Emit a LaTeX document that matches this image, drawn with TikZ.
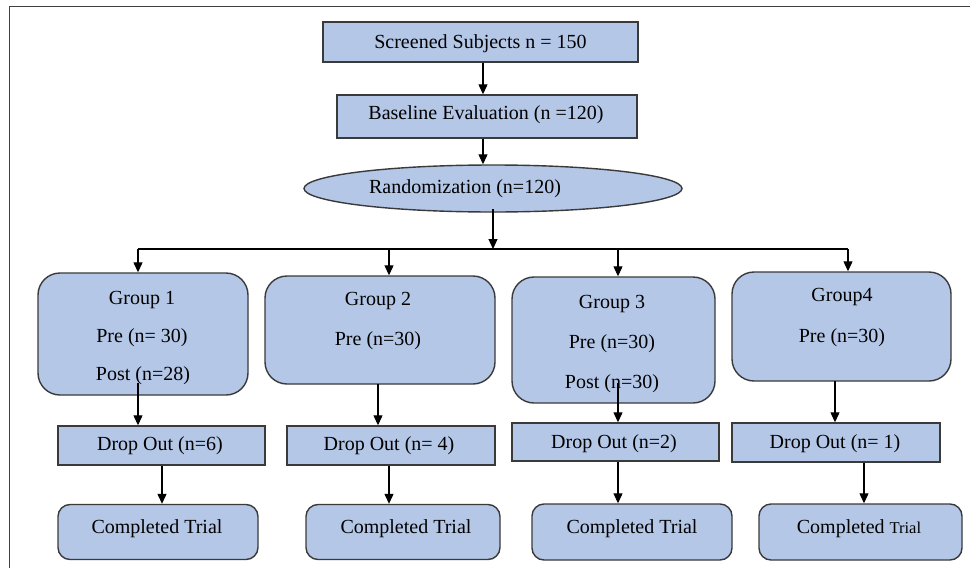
\documentclass[tikz,border=0pt]{standalone}
\usepackage{fontspec}
\setmainfont{Liberation Serif}
\usetikzlibrary{arrows.meta,shapes.geometric}
\definecolor{boxfill}{HTML}{B4C7E7}
\definecolor{boxline}{HTML}{3A3A3A}
\definecolor{frameline}{HTML}{404040}
\begin{document}
\begin{tikzpicture}[x=1pt,y=-1pt,
  base/.style={draw=boxline,line width=1.4pt,fill=boxfill,inner sep=0pt,
    font=\fontsize{20}{24}\selectfont},
  rectbox/.style={base,rectangle},
  grpbox/.style={base,rectangle,rounded corners=22pt},
  donebox/.style={base,rectangle,rounded corners=12pt},
  ovalbox/.style={base,ellipse},
  txt/.style={inner sep=0pt,font=\fontsize{20}{24}\selectfont,text height=14pt,text depth=4pt},
  arr/.style={draw=black,line width=1.2pt,-{Triangle[width=9pt,length=10pt]}},
  ln/.style={draw=black,line width=1.2pt}]
\useasboundingbox (0,0) rectangle (970,568);
% frame
\draw[frameline,line width=1.6pt] (9.5,570) -- (9.5,6.5) -- (971,6.5);

% top chain
\node[rectbox,minimum width=315pt,minimum height=40pt] (s) at (480.5,42) {};
\node[txt] (st) at (480.5,43) {Screened Subjects n = 150};
\node[rectbox,minimum width=300pt,minimum height=43pt] (b) at (487,116.5) {};
\node[txt] (bt) at (486,114) {Baseline Evaluation (n =120)};
\node[ovalbox,minimum width=378pt,minimum height=47pt] (e) at (493,188.5) {};
\node[txt] (et) at (465,188) {Randomization (n=120)};

% groups
\node[grpbox,minimum width=210pt,minimum height=122pt] (g1) at (143,334) {};
\node[grpbox,minimum width=230pt,minimum height=108pt] (g2) at (380,330) {};
\node[grpbox,minimum width=203pt,minimum height=126pt] (g3) at (613.5,340) {};
\node[grpbox,minimum width=219pt,minimum height=109pt] (g4) at (841.5,326.5) {};

\node[txt] (g1a) at (142,299) {Group 1};
\node[txt] (g1b) at (142,337) {Pre (n= 30)};
\node[txt] (g1c) at (143,375) {Post (n=28)};
\node[txt] (g2a) at (378,300) {Group 2};
\node[txt] (g2b) at (378,340) {Pre (n=30)};
\node[txt] (g3a) at (612,303) {Group 3};
\node[txt] (g3b) at (612,343) {Pre (n=30)};
\node[txt] (g3c) at (612,383) {Post (n=30)};
\node[txt] (g4a) at (842,296) {Group4};
\node[txt] (g4b) at (842,337) {Pre (n=30)};

% drop outs
\node[rectbox,minimum width=207pt,minimum height=39pt] (d1) at (161.5,445.5) {};
\node[rectbox,minimum width=208pt,minimum height=39pt] (d2) at (391,445.5) {};
\node[rectbox,minimum width=207pt,minimum height=38pt] (d3) at (615.5,442) {};
\node[rectbox,minimum width=208pt,minimum height=39pt] (d4) at (836,442.5) {};
\node[txt] (d1t) at (160,445) {Drop Out (n=6)};
\node[txt] (d2t) at (389,445) {Drop Out (n= 4)};
\node[txt] (d3t) at (614,443) {Drop Out (n=2)};
\node[txt] (d4t) at (835,443) {Drop Out (n= 1)};

% completed
\node[donebox,minimum width=200pt,minimum height=55pt] (c1) at (158,532) {};
\node[donebox,minimum width=194pt,minimum height=55pt] (c2) at (403,532) {};
\node[donebox,minimum width=200pt,minimum height=56pt] (c3) at (632,532) {};
\node[donebox,minimum width=203pt,minimum height=56pt] (c4) at (860.5,532) {};
\node[txt] (c1t) at (157,528) {Completed Trial};
\node[txt] (c2t) at (406,528) {Completed Trial};
\node[txt] (c3t) at (632,528) {Completed Trial};
\node[txt] (c4t) at (859,528) {Completed {\fontsize{16.5}{20}\selectfont Trial}};

% connectors
\coordinate (cx) at (483,0);
\draw[arr] (s.south -| cx) -- (b.north -| cx);
\draw[arr] (b.south -| cx) -- (e.north -| cx);
\coordinate (eo) at (493,209);
\coordinate (bus) at (493,249);
\draw[arr] (eo) -- (bus);
\coordinate (bl) at (138,249);
\coordinate (b2) at (389,249);
\coordinate (b3) at (618,249);
\coordinate (br) at (848,249);
\draw[ln] (bl) -- (br);
\draw[arr] (bl) -- (g1.north -| bl);
\draw[arr] (b2) -- (g2.north -| b2);
\draw[arr] (b3) -- (g3.north -| b3);
\draw[arr] (br) -- (g4.north -| br);

\coordinate (o1) at (138,383);
\coordinate (o2) at (378,384);
\coordinate (o3) at (618,383);
\coordinate (o4) at (835,381);
\draw[arr] (o1) -- (d1.north -| o1);
\draw[arr] (o2) -- (d2.north -| o2);
\draw[arr] (o3) -- (d3.north -| o3);
\draw[arr] (o4) -- (d4.north -| o4);

\coordinate (p1) at (162,0);
\coordinate (p2) at (389,0);
\coordinate (p3) at (618,0);
\coordinate (p4) at (864,0);
\draw[arr] (d1.south -| p1) -- (c1.north -| p1);
\draw[arr] (d2.south -| p2) -- (c2.north -| p2);
\draw[arr] (d3.south -| p3) -- (c3.north -| p3);
\draw[arr] (d4.south -| p4) -- (c4.north -| p4);
\end{tikzpicture}
\end{document}
